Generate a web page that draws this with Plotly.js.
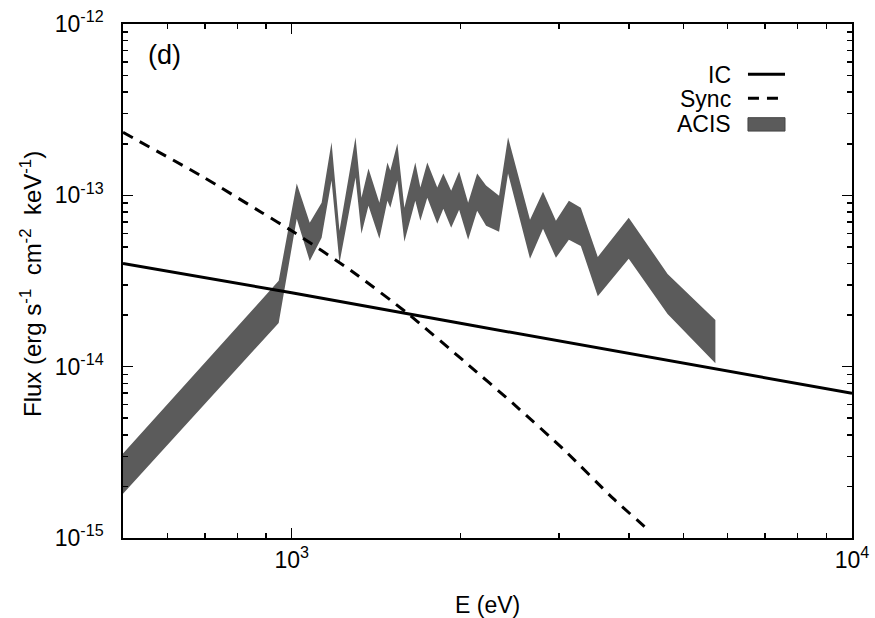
<!DOCTYPE html>
<html>
<head>
<meta charset="utf-8">
<script src="https://cdn.plot.ly/plotly-3.0.1.min.js"></script>
<style>html,body{margin:0;padding:0;background:#fff;}#chart{width:875px;height:618px;}</style>
</head>
<body>
<div id="chart"></div>
<script>
// ---- Data ----
// Inverse Compton model (power law)
const icE = [500, 1000, 2000, 5000, 10000];
const icFlux = [4.0e-14, 2.7e-14, 1.79e-14, 1.05e-14, 7.0e-15];

// Synchrotron model
const syncE = [500, 692, 885, 1000, 1279, 1615, 2032, 2494, 3060, 3755, 4371];
const syncFlux = [2.33e-13, 1.29e-13, 7.92e-14, 6.21e-14, 3.62e-14, 2.03e-14, 1.075e-14, 6.02e-15, 3.28e-15, 1.69e-15, 1.085e-15];

// ACIS spectrum band (upper / lower edges)
const acisE = [500, 948, 1021, 1077, 1131, 1178, 1217, 1300, 1332, 1371, 1434, 1482, 1500, 1544, 1589, 1662, 1697, 1746, 1819, 1865, 1926, 1990, 2065, 2143, 2223, 2345, 2433, 2663, 2809, 2962, 3124, 3281, 3518, 3995, 4687, 5704];
const acisUpper = [3.11e-15, 3.17e-14, 1.171e-13, 6.92e-14, 9.06e-14, 2.04e-13, 6.21e-14, 2.18e-13, 9.69e-14, 1.433e-13, 9.06e-14, 1.554e-13, 1.395e-13, 2.01e-13, 8.47e-14, 1.554e-13, 1.11e-13, 1.554e-13, 1.11e-13, 1.34e-13, 1.065e-13, 1.376e-13, 9.06e-14, 1.34e-13, 1.14e-13, 9.96e-14, 2.18e-13, 7.21e-14, 1.051e-13, 7.11e-14, 9.31e-14, 8.47e-14, 4.37e-14, 7.40e-14, 3.48e-14, 1.87e-14];
const acisLower = [1.81e-15, 1.80e-14, 7.30e-14, 4.14e-14, 5.65e-14, 1.22e-13, 4.03e-14, 1.27e-13, 5.96e-14, 8.70e-14, 5.58e-14, 9.31e-14, 8.47e-14, 1.22e-13, 5.36e-14, 9.31e-14, 7.11e-14, 9.69e-14, 6.83e-14, 8.36e-14, 6.47e-14, 8.25e-14, 5.50e-14, 8.13e-14, 6.65e-14, 6.13e-14, 1.34e-13, 4.26e-14, 6.38e-14, 4.32e-14, 5.50e-14, 5.07e-14, 2.58e-14, 4.26e-14, 2.03e-14, 1.047e-14];

// Tick labels
const xTickVals = [1000, 10000];
const xTickText = ['10<sup>3</sup>', '10<sup>4</sup>'];
const yTickVals = [1e-15, 1e-14, 1e-13, 1e-12];
const yTickText = ['10<sup>-15</sup>', '10<sup>-14</sup>', '10<sup>-13</sup>', '10<sup>-12</sup>'];
const xMinorVals = [600, 700, 800, 900, 2000, 3000, 4000, 5000, 6000, 7000, 8000, 9000];
const yMinorVals = [];
[1e-15, 1e-14, 1e-13].forEach(d => { for (let m = 2; m <= 9; m++) yMinorVals.push(m * d); });

const legendNames = ['IC', 'Sync', 'ACIS'];
const xTitle = 'E (eV)';
const yTitle = 'Flux (erg s<sup>-1</sup>\u00A0 cm<sup>-2</sup>\u00A0 keV<sup>-1</sup>)';

// ---- Traces ----
const bandX = acisE.concat(acisE.slice().reverse());
const bandY = acisUpper.concat(acisLower.slice().reverse());

const FONT = 'Liberation Sans, Arial, Helvetica, sans-serif';
const FS = 23;
const traces = [
  {x: bandX, y: bandY, type: 'scatter', mode: 'lines', fill: 'toself',
   fillcolor: '#5b5b5b', line: {width: 0, color: '#5b5b5b'}, name: 'ACIS', hoverinfo: 'skip'},
  {x: icE, y: icFlux, type: 'scatter', mode: 'lines',
   line: {color: '#000', width: 3}, name: 'IC'},
  {x: syncE, y: syncFlux, type: 'scatter', mode: 'lines', line: {shape: 'spline', smoothing: 0.6,
   color: '#000', width: 3, dash: '11px,8px'}, name: 'Sync'}
];

// ---- Custom legend (text left of sample as in reference) ----
const legX = 0.8368, sampX0 = 0.8573, sampX1 = 0.9081;
const legY = [0.9004, 0.8535, 0.8047];
const annotations = legendNames.map((n, i) => ({
  text: n, xref: 'paper', yref: 'paper', x: legX, y: legY[i],
  xanchor: 'right', yanchor: 'middle', showarrow: false,
  font: {family: FONT, size: FS, color: '#000'}
}));
annotations.push({text: '(d)', xref: 'paper', yref: 'paper', x: 0.032, y: 0.9395,
  xanchor: 'left', yanchor: 'middle', showarrow: false, font: {family: FONT, size: 27, color: '#000'}});
annotations.push({text: yTitle, xref: 'paper', yref: 'paper', x: -0.127, y: 0.495,
  xanchor: 'center', yanchor: 'middle', textangle: -90, showarrow: false,
  font: {family: FONT, size: 24, color: '#000'}});
annotations.push({text: xTitle, xref: 'paper', yref: 'paper', x: 0.5, y: -0.13,
  xanchor: 'center', yanchor: 'middle', showarrow: false,
  font: {family: FONT, size: FS, color: '#000'}});

const shapes = [
  {type: 'line', xref: 'paper', yref: 'paper', x0: sampX0, x1: sampX1, y0: legY[0] + 0.002, y1: legY[0] + 0.002,
   line: {color: '#000', width: 3}},
  {type: 'line', xref: 'paper', yref: 'paper', x0: sampX0, x1: sampX1, y0: legY[1] + 0.002, y1: legY[1] + 0.002,
   line: {color: '#000', width: 3, dash: '11px,8px'}},
  {type: 'rect', xref: 'paper', yref: 'paper', x0: sampX0, x1: sampX1, y0: legY[2] - 0.013, y1: legY[2] + 0.013,
   fillcolor: '#5b5b5b', line: {color: '#444', width: 1}}
];

const axisCommon = {
  type: 'log', showline: true, linecolor: '#000', linewidth: 2, mirror: 'ticks',
  ticks: 'inside', ticklen: 10, tickwidth: 1.5, tickcolor: '#000',
  showgrid: false, zeroline: false,
  tickfont: {family: FONT, size: FS, color: '#000'}
};

const layout = {
  width: 875, height: 618,
  margin: {l: 123, r: 23, t: 24, b: 80},
  paper_bgcolor: '#fff', plot_bgcolor: '#fff',
  showlegend: false,
  font: {family: FONT, color: '#000'},
  xaxis: Object.assign({}, axisCommon, {
    range: [Math.log10(500), 4],
    tickmode: 'array', tickvals: xTickVals, ticktext: xTickText,
    minor: {tickmode: 'array', tickvals: xMinorVals, ticks: 'inside', ticklen: 5, tickwidth: 1.5, tickcolor: '#000', showgrid: false}
  }),
  yaxis: Object.assign({}, axisCommon, {
    range: [-15, -12],
    tickmode: 'array', tickvals: yTickVals, ticktext: yTickText.map(t => t + '\u00A0\u00A0'),
    minor: {tickmode: 'array', tickvals: yMinorVals, ticks: 'inside', ticklen: 5, tickwidth: 1.5, tickcolor: '#000', showgrid: false}
  }),
  annotations: annotations,
  shapes: shapes
};

Plotly.newPlot('chart', traces, layout, {displayModeBar: false, staticPlot: true});
</script>
</body>
</html>
